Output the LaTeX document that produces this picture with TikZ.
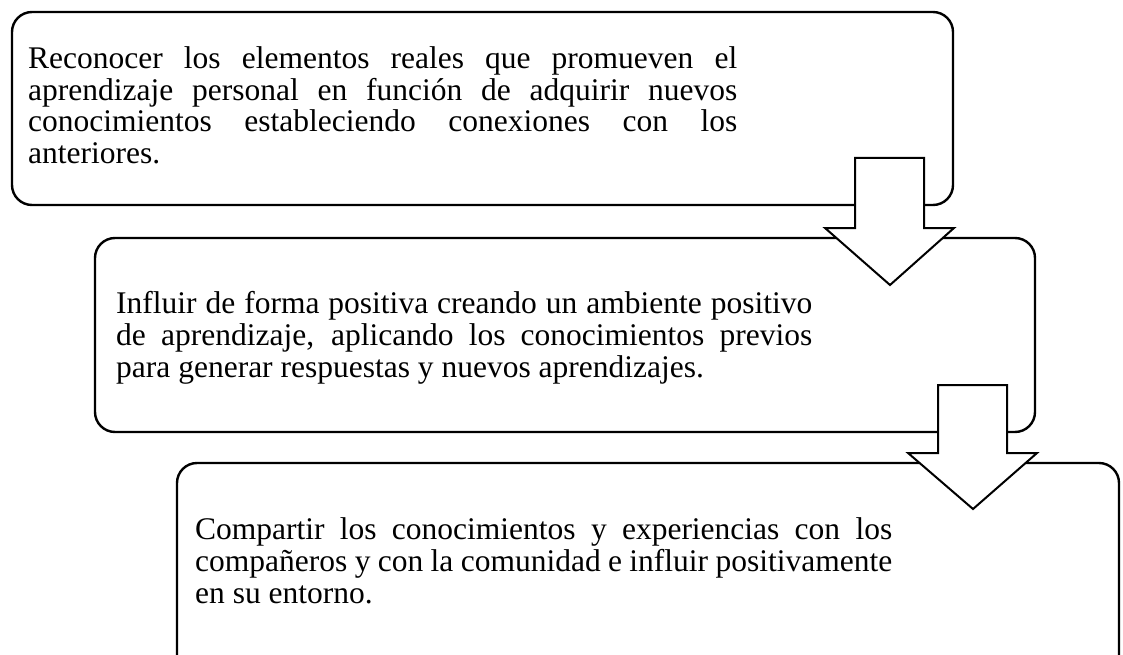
\documentclass[tikz,border=0pt]{standalone}
\usepackage{fontspec}
\setmainfont{Liberation Serif}
\begin{document}
\begin{tikzpicture}[x=1pt,y=-1pt,
  box/.style={draw=black,line width=2.4pt,rounded corners=20pt,fill=white},
  downarrow/.style={draw=black,line width=2pt,fill=white,line join=miter},
  txt/.style={anchor=base west,inner sep=0pt,font=\fontsize{31.5}{32}\selectfont}]
\useasboundingbox (0,0) rectangle (1123,655);
% boxes
\draw[box] (12,12) rectangle (953,205);
\draw[box] (95,238) rectangle (1035,432);
\draw[box] (177,463) rectangle (1119,690);
% box 1 text
\node[txt] (a1) at (28,69) {\makebox[709pt][s]{Reconocer los elementos reales que promueven el}};
\node[txt] (a2) at (28,100.5) {\makebox[709pt][s]{aprendizaje personal en función de adquirir nuevos}};
\node[txt] (a3) at (28,132) {\makebox[709pt][s]{conocimientos estableciendo conexiones con los}};
\node[txt] (a4) at (28,163.5) {anteriores.};
% box 2 text
\node[txt] (b1) at (116,313) {\makebox[696pt][s]{Influir de forma positiva creando un ambiente positivo}};
\node[txt] (b2) at (116,345) {\makebox[696pt][s]{de aprendizaje, aplicando los conocimientos previos}};
\node[txt] (b3) at (116,377) {para generar respuestas y nuevos aprendizajes.};
% box 3 text
\node[txt] (c1) at (195,539) {\makebox[697pt][s]{Compartir los conocimientos y experiencias con los}};
\node[txt] (c2) at (195,571) {\makebox[697pt][s]{compañeros y con la comunidad e influir positivamente}};
\node[txt] (c3) at (195,603) {en su entorno.};
% arrows
\draw[downarrow] (855,158) -- (924,158) -- (924,228) -- (954,228) -- (890,285) -- (825,228) -- (855,228) -- cycle;
\draw[downarrow] (938,385) -- (1007,385) -- (1007,453) -- (1037,453) -- (973,509) -- (908,453) -- (938,453) -- cycle;
\end{tikzpicture}
\end{document}
